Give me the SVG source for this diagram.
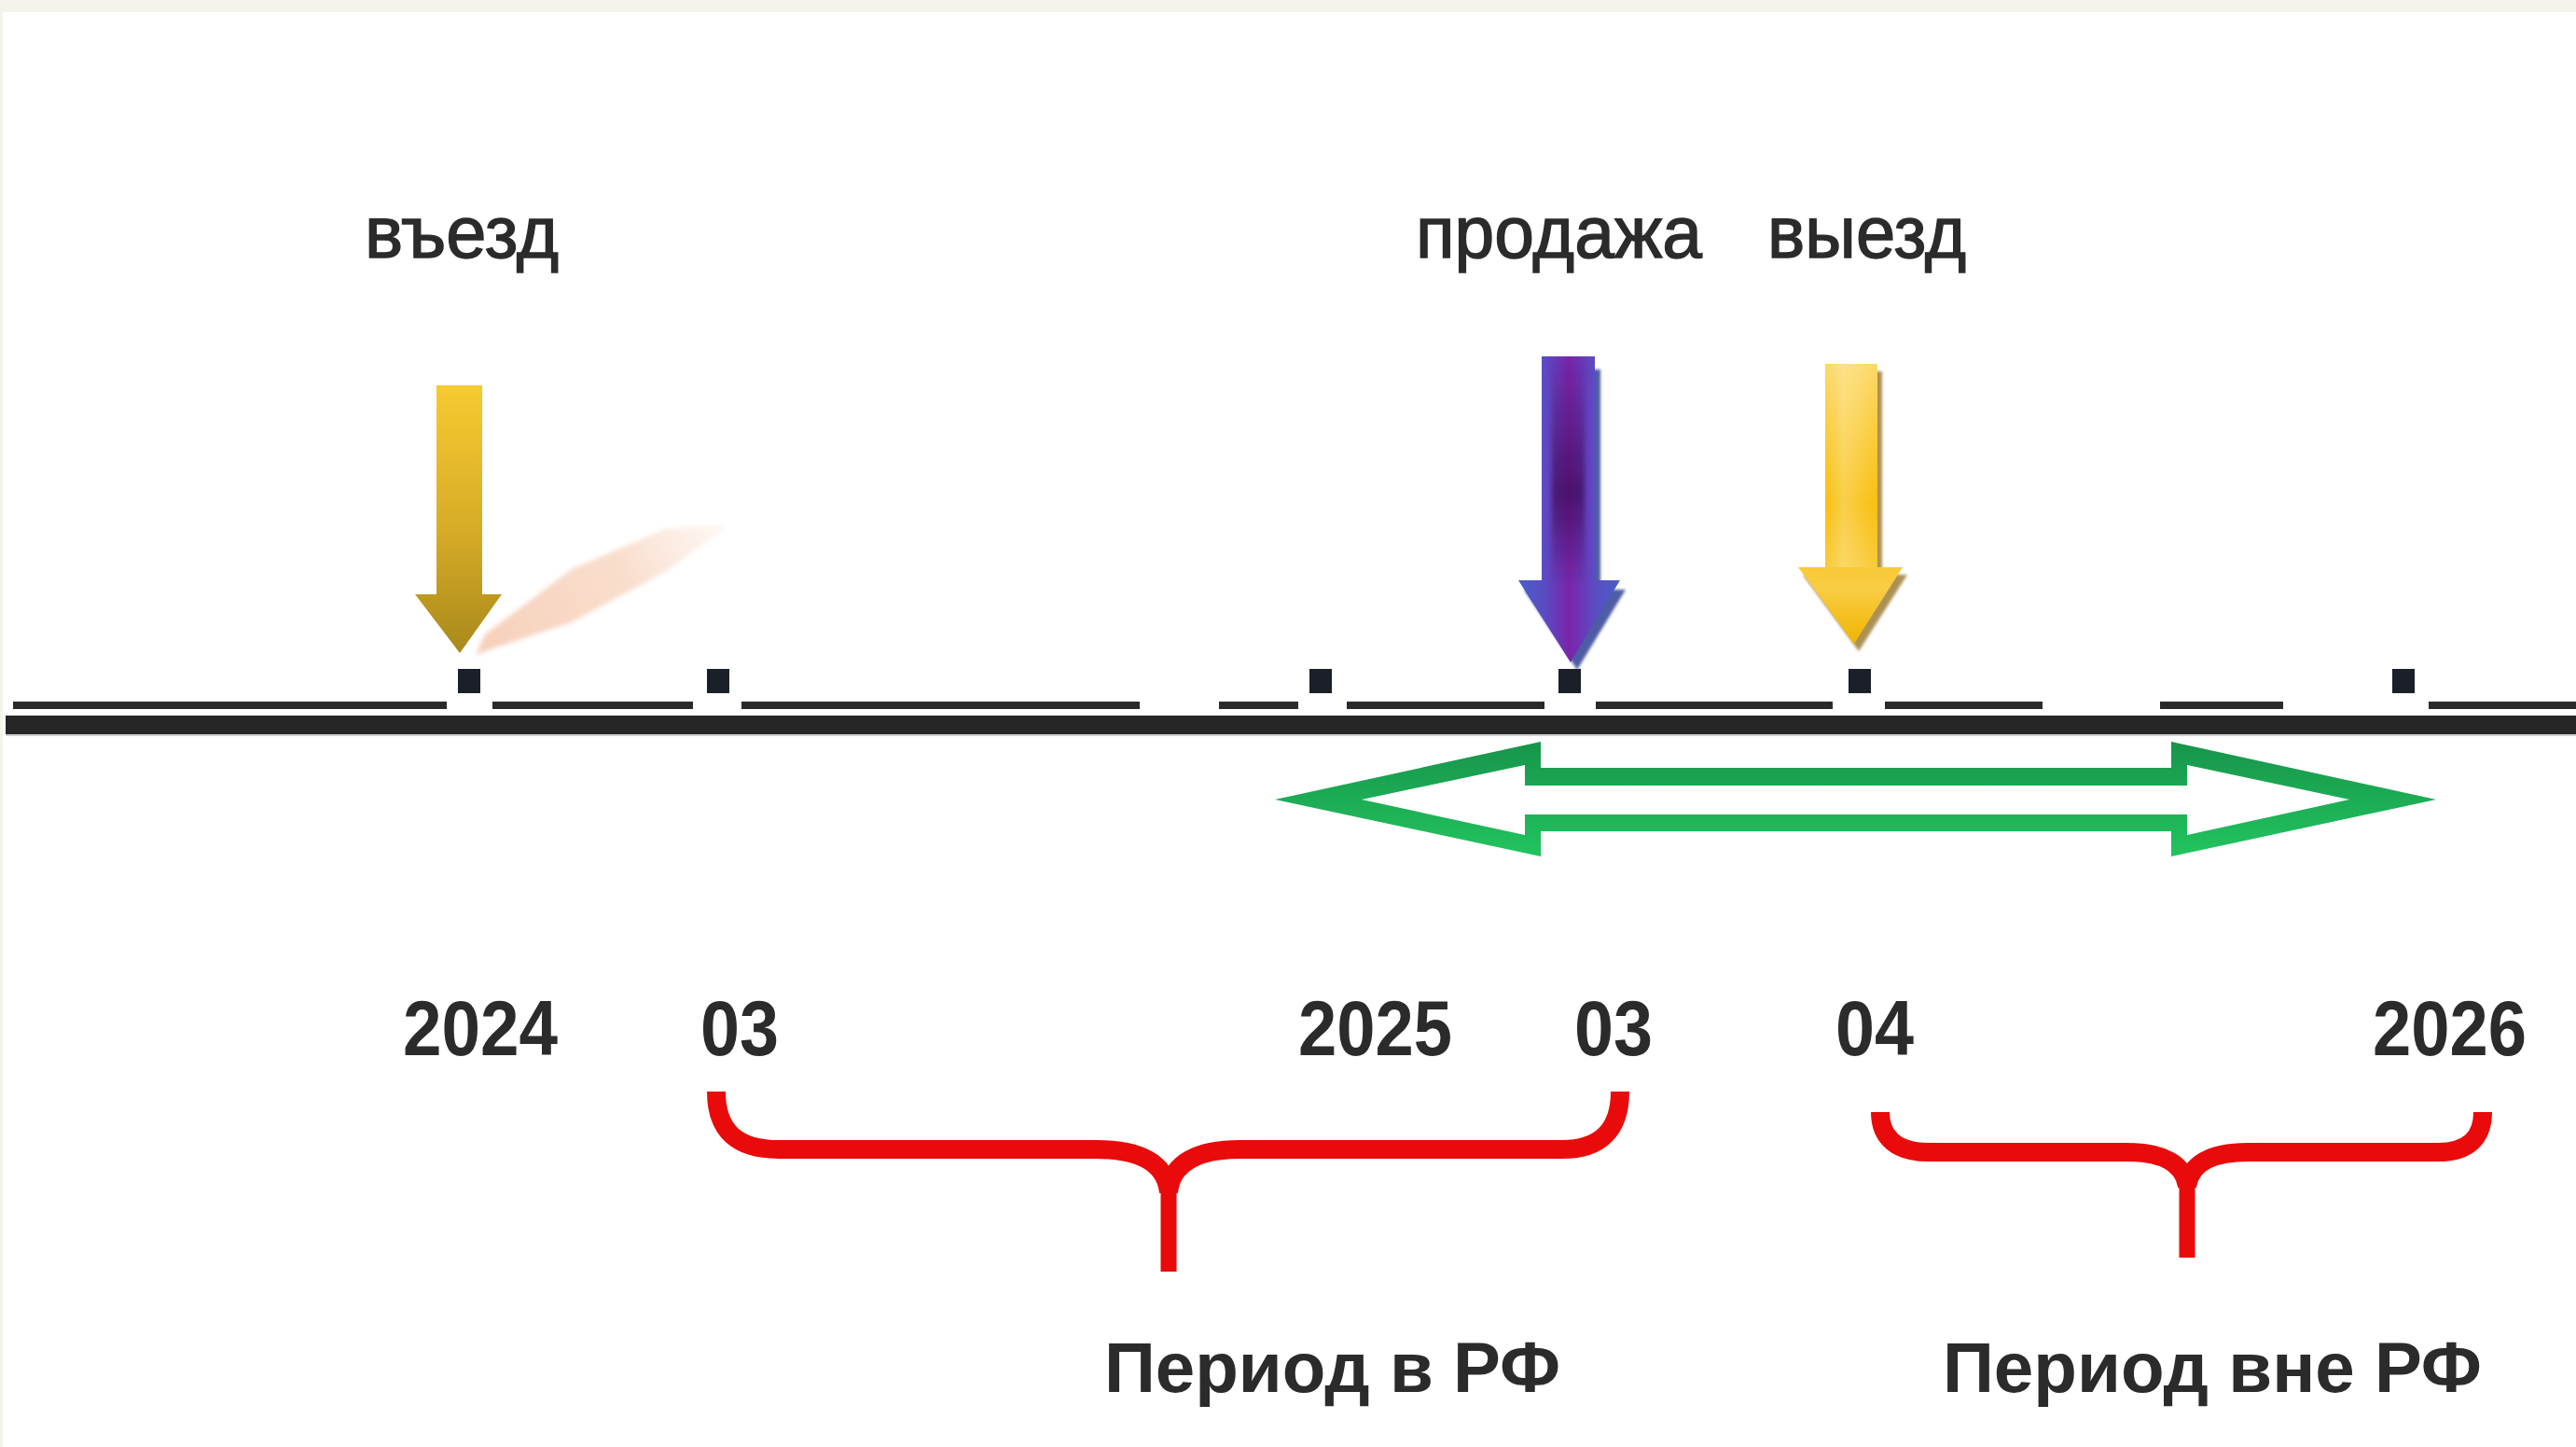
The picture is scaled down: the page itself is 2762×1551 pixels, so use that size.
<svg xmlns="http://www.w3.org/2000/svg" width="2762" height="1551" viewBox="0 0 2762 1551">
  <defs>
    <linearGradient id="goldFill" x1="0" y1="413" x2="0" y2="700" gradientUnits="userSpaceOnUse">
      <stop offset="0" stop-color="#f7ca30"/>
      <stop offset="0.55" stop-color="#d6ab27"/>
      <stop offset="1" stop-color="#a8891c"/>
    </linearGradient>
    <linearGradient id="purpleFill" x1="1628" y1="0" x2="1737" y2="0" gradientUnits="userSpaceOnUse">
      <stop offset="0" stop-color="#4a5ec6"/>
      <stop offset="0.25" stop-color="#5a4cc4"/>
      <stop offset="0.5" stop-color="#7a24aa"/>
      <stop offset="0.75" stop-color="#5a4cc4"/>
      <stop offset="1" stop-color="#4a5ec6"/>
    </linearGradient>
    <linearGradient id="purpleShade" x1="0" y1="382" x2="0" y2="710" gradientUnits="userSpaceOnUse">
      <stop offset="0" stop-color="#2a0a3a" stop-opacity="0"/>
      <stop offset="0.45" stop-color="#2a0a3a" stop-opacity="0.55"/>
      <stop offset="0.75" stop-color="#2a0a3a" stop-opacity="0"/>
    </linearGradient>
    <linearGradient id="yellowFill" x1="0" y1="390" x2="0" y2="690" gradientUnits="userSpaceOnUse">
      <stop offset="0" stop-color="#fcd866"/>
      <stop offset="0.5" stop-color="#f8bf0c"/>
      <stop offset="0.8" stop-color="#f9cd44"/>
      <stop offset="1" stop-color="#f1b400"/>
    </linearGradient>
    <linearGradient id="yellowGloss" x1="1957" y1="0" x2="2013" y2="0" gradientUnits="userSpaceOnUse">
      <stop offset="0" stop-color="#ffffff" stop-opacity="0"/>
      <stop offset="0.35" stop-color="#ffffff" stop-opacity="0.25"/>
      <stop offset="1" stop-color="#ffffff" stop-opacity="0"/>
    </linearGradient>
    <linearGradient id="greenFill" x1="0" y1="795" x2="0" y2="918" gradientUnits="userSpaceOnUse">
      <stop offset="0" stop-color="#17944b"/>
      <stop offset="1" stop-color="#22c45f"/>
    </linearGradient>
    <linearGradient id="streakFill" x1="510" y1="700" x2="780" y2="562" gradientUnits="userSpaceOnUse">
      <stop offset="0" stop-color="#f6cdb6" stop-opacity="0.95"/>
      <stop offset="0.6" stop-color="#f8d8c4" stop-opacity="0.85"/>
      <stop offset="1" stop-color="#fbe6da" stop-opacity="0.3"/>
    </linearGradient>
    <filter id="soft" x="-20%" y="-20%" width="140%" height="140%">
      <feGaussianBlur stdDeviation="2.5"/>
    </filter>
    <filter id="shadowBlur" x="-20%" y="-20%" width="140%" height="140%">
      <feGaussianBlur stdDeviation="1.5"/>
    </filter>
  </defs>
  <style>
    .lbl{font-family:"Liberation Sans",Arial,Helvetica,sans-serif;fill:#2b2b2b}
    .top{font-size:78px;stroke:#2b2b2b;stroke-width:1.4px}
    .num{font-size:84px;font-weight:bold}
    .cap{font-size:76px;font-weight:bold}
    .seg{fill:#2a2a2a}
    .tick{fill:#1b1f27}
    .brace{fill:none;stroke:#e90b0b;stroke-width:20;stroke-linecap:butt}
    .stem{fill:none;stroke:#e90b0b;stroke-width:17;stroke-linecap:butt}
  </style>

  <!-- page background with frame -->
  <rect x="0" y="0" width="2762" height="1551" fill="#f4f4ec"/>
  <rect x="3" y="13" width="2759" height="1538" fill="#ffffff"/>

  <!-- time axis -->
  <g id="axis">
    <rect x="6" y="767" width="2756" height="20" fill="#262626"/>
    <rect x="6" y="787" width="2756" height="2" fill="#cfcfcf"/>
    <rect class="seg" x="14" y="752" width="465" height="8"/>
    <rect class="seg" x="528" y="752" width="215" height="8"/>
    <rect class="seg" x="795" y="752" width="427" height="8"/>
    <rect class="seg" x="1307" y="752" width="85" height="8"/>
    <rect class="seg" x="1444" y="752" width="212" height="8"/>
    <rect class="seg" x="1711" y="752" width="254" height="8"/>
    <rect class="seg" x="2021" y="752" width="169" height="8"/>
    <rect class="seg" x="2316" y="752" width="132" height="8"/>
    <rect class="seg" x="2604" y="752" width="158" height="8"/>
  </g>

  <!-- tick marks on the axis -->
  <g id="ticks">
    <rect class="tick" x="491" y="717" width="24" height="26"/>
    <rect class="tick" x="758" y="717" width="24" height="26"/>
    <rect class="tick" x="1404" y="717" width="24" height="26"/>
    <rect class="tick" x="1671" y="717" width="24" height="26"/>
    <rect class="tick" x="1982" y="717" width="24" height="26"/>
    <rect class="tick" x="2565" y="717" width="24" height="26"/>
  </g>

  <!-- entry event -->
  <g id="entry">
    <path d="M510 702 L523 697 L613 667 L713 613 L777 567 L777 563 L713 567 L613 610 L520 680 Z" fill="url(#streakFill)" filter="url(#soft)"/>
    <path d="M468 413 H517 V637 H538 L493 700 L445 637 H468 Z" fill="url(#goldFill)"/>
    <text class="lbl top" x="391" y="276" textLength="208" lengthAdjust="spacingAndGlyphs">въезд</text>
  </g>

  <!-- sale event -->
  <g id="sale">
    <path d="M1659 396 H1716 V632 H1743 L1691 718 L1634 632 H1659 Z" fill="#2f3f96" opacity="0.85" filter="url(#shadowBlur)"/>
    <path d="M1653 382 H1710 V622 H1737 L1684 710 L1628 622 H1653 Z" fill="url(#purpleFill)"/>
    <rect x="1664" y="382" width="35" height="300" fill="url(#purpleShade)" filter="url(#soft)"/>
    <text class="lbl top" x="1518" y="276" textLength="307" lengthAdjust="spacingAndGlyphs">продажа</text>
  </g>

  <!-- exit event -->
  <g id="exit">
    <path d="M1962 398 H2018 V616 H2045 L1993 698 L1933 616 H1962 Z" fill="#8a6410" opacity="0.7" filter="url(#shadowBlur)"/>
    <path d="M1957 390 H2013 V608 H2040 L1988 690 L1928 608 H1957 Z" fill="url(#yellowFill)"/>
    <rect x="1957" y="390" width="56" height="218" fill="url(#yellowGloss)"/>
    <text class="lbl top" x="1895" y="276" textLength="213" lengthAdjust="spacingAndGlyphs">выезд</text>
  </g>

  <!-- axis dates -->
  <g id="dates">
    <text class="lbl num" x="432" y="1131" textLength="166" lengthAdjust="spacingAndGlyphs">2024</text>
    <text class="lbl num" x="751" y="1131" textLength="84" lengthAdjust="spacingAndGlyphs">03</text>
    <text class="lbl num" x="1392" y="1131" textLength="165" lengthAdjust="spacingAndGlyphs">2025</text>
    <text class="lbl num" x="1688" y="1131" textLength="84" lengthAdjust="spacingAndGlyphs">03</text>
    <text class="lbl num" x="1968" y="1131" textLength="84" lengthAdjust="spacingAndGlyphs">04</text>
    <text class="lbl num" x="2544" y="1131" textLength="165" lengthAdjust="spacingAndGlyphs">2026</text>
  </g>

  <!-- spans: the window after the sale and the two periods -->
  <g id="connectors">
    <path fill="url(#greenFill)" fill-rule="evenodd" d="M1367 857 L1652 795 V823 H2328 V795 L2612 857 L2328 918 V891 H1652 V918 Z M1460 857 L1635 820 V842 H2345 V820 L2519 857 L2345 895 V873 H1635 V895 Z"/>
    <path class="brace" d="M768 1170 C768 1212 790 1232 835 1232 L1175 1232 C1222 1232 1250 1246 1253 1278 M1737 1170 C1737 1212 1715 1232 1675 1232 L1330 1232 C1284 1232 1256 1246 1253 1278"/>
    <path class="stem" d="M1253 1270 L1253 1363"/>
    <path class="brace" d="M2016 1192 C2016 1220 2034 1235 2068 1235 L2280 1235 C2320 1235 2342 1248 2345 1272 M2662 1192 C2662 1220 2646 1235 2614 1235 L2410 1235 C2370 1235 2348 1248 2345 1272"/>
    <path class="stem" d="M2345 1265 L2345 1348"/>
  </g>

  <!-- period captions -->
  <g id="periods">
    <text class="lbl cap" x="1184" y="1492" textLength="489" lengthAdjust="spacingAndGlyphs">Период в РФ</text>
    <text class="lbl cap" x="2083" y="1492" textLength="578" lengthAdjust="spacingAndGlyphs">Период вне РФ</text>
  </g>
</svg>
